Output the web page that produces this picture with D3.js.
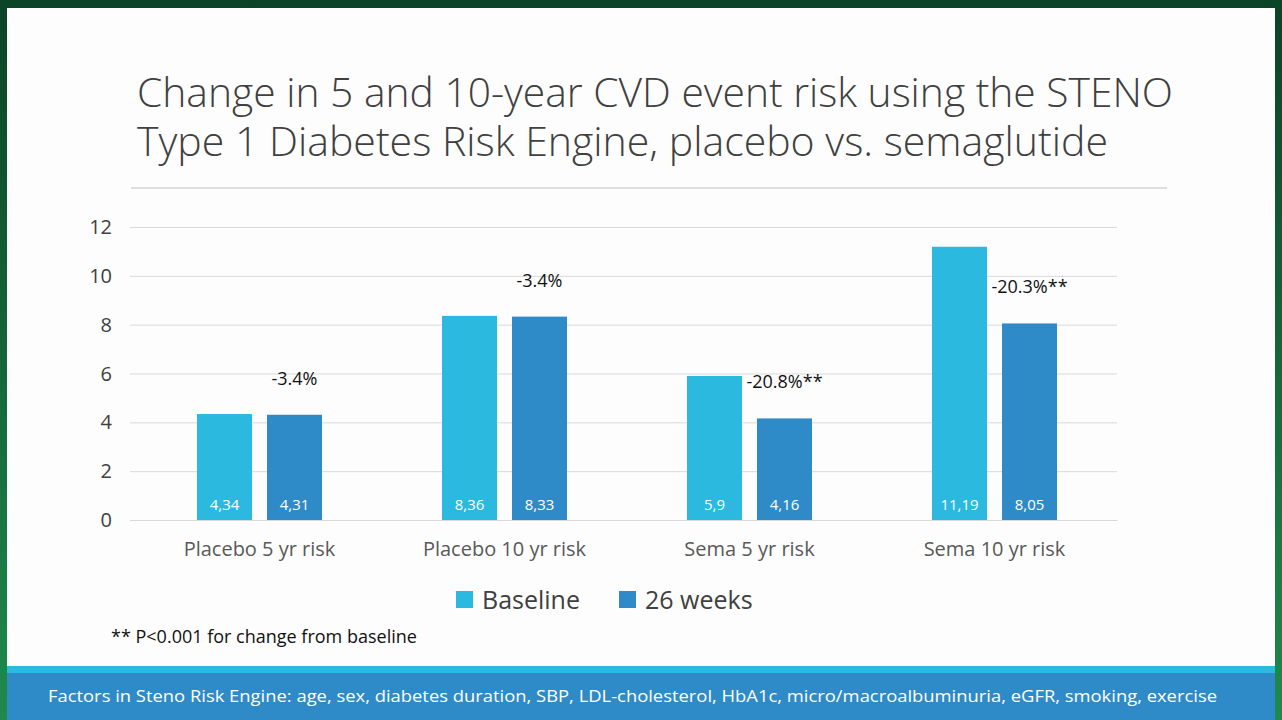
<!DOCTYPE html>
<html>
<head>
<meta charset="utf-8">
<script src="https://d3js.org/d3.v7.min.js"></script>
<style>
  body { margin:0; background:#0b4a2a; }
  svg { display:block; font-family: "Open Sans", "Noto Sans", sans-serif; }
</style>
</head>
<body>
<script>
// data
var categories = ["Placebo 5 yr risk", "Placebo 10 yr risk", "Sema 5 yr risk", "Sema 10 yr risk"];
var seriesNames = ["Baseline", "26 weeks"];
var baseline = [4.34, 8.36, 5.9, 11.19];
var week26 = [4.31, 8.33, 4.16, 8.05];
var valueLabels = [["4,34","4,31"], ["8,36","8,33"], ["5,9","4,16"], ["11,19","8,05"]];
var changeLabels = ["-3.4%", "-3.4%", "-20.8%**", "-20.3%**"];
var yTicks = [0, 2, 4, 6, 8, 10, 12];
var colors = ["#2BB9E0", "#2E8BC7"];

var W = 1282, H = 720;
var svg = d3.select("body").append("svg").attr("width", W).attr("height", H);

// green frame
var defs = svg.append("defs");
var grad = defs.append("linearGradient").attr("id", "frame").attr("x1", 0).attr("y1", 0).attr("x2", 0).attr("y2", 1);
grad.append("stop").attr("offset", "0%").attr("stop-color", "#0b4326");
grad.append("stop").attr("offset", "100%").attr("stop-color", "#1f8a4c");
svg.append("rect").attr("width", W).attr("height", H).attr("fill", "url(#frame)");
svg.append("rect").attr("x", 7).attr("y", 8).attr("width", 1268).attr("height", H - 8).attr("fill", "#fdfdfd");

// title
var title = svg.append("text").attr("fill", "#404040").style("font-size", "40px").style("font-weight", 300);
title.append("tspan").attr("x", 137).attr("y", 107).attr("textLength", 1036).attr("lengthAdjust", "spacingAndGlyphs")
  .text("Change in 5 and 10-year CVD event risk using the STENO");
title.append("tspan").attr("x", 137).attr("y", 156).attr("textLength", 971).attr("lengthAdjust", "spacingAndGlyphs")
  .text("Type 1 Diabetes Risk Engine, placebo vs. semaglutide");
svg.append("line").attr("x1", 131).attr("x2", 1167).attr("y1", 188).attr("y2", 188).attr("stroke", "#bfbfbf");

// scales
var x0 = d3.scaleBand().domain(categories).range([137, 1117]);
var y = d3.scaleLinear().domain([0, 12]).range([520, 227]);
var barW = 55, gap = 15;

svg.append("g").attr("transform", "translate(130,0)")
  .call(d3.axisLeft(y).tickValues(yTicks).tickSize(-987).tickFormat(""))
  .call(g => g.select(".domain").remove())
  .call(g => g.selectAll("line").attr("stroke", "#d9d9d9"));

yTicks.forEach(function(t) {
  svg.append("text").attr("x", 112).attr("y", y(t) + 7).attr("text-anchor", "end")
    .attr("fill", "#404040").style("font-size", "20px").text(t);
});

var xAxis = svg.append("g").attr("transform", "translate(0,520)")
  .call(d3.axisBottom(x0).tickSize(0).tickPadding(22));
xAxis.select(".domain").attr("stroke", "#d9d9d9");
xAxis.selectAll("text").attr("fill", "#595959").style("font-size", "20px")
  .style("font-family", "'Open Sans', sans-serif");

categories.forEach(function(c, i) {
  var cx = x0(c) + x0.bandwidth() / 2;
  var vals = [baseline[i], week26[i]];
  vals.forEach(function(v, j) {
    var bx = cx - gap / 2 - barW + j * (barW + gap);
    svg.append("rect").attr("x", bx).attr("y", y(v)).attr("width", barW)
      .attr("height", y(0) - y(v)).attr("fill", colors[j]);
    svg.append("text").attr("x", bx + barW / 2).attr("y", 510).attr("text-anchor", "middle")
      .attr("fill", "#ffffff").style("font-size", "15px").text(valueLabels[i][j]);
  });
  var lx = cx + gap / 2 + barW / 2;
  svg.append("text").attr("x", lx).attr("y", y(week26[i]) - 30)
    .attr("text-anchor", "middle").attr("fill", "#111").style("font-size", "18px").text(changeLabels[i]);
});

// legend
seriesNames.forEach(function(s, j) {
  var lx = [456, 619][j];
  svg.append("rect").attr("x", lx).attr("y", 591).attr("width", 17).attr("height", 17).attr("fill", colors[j]);
  svg.append("text").attr("x", lx + 26).attr("y", 609).attr("fill", "#404040").style("font-size", "25px").text(s);
});

svg.append("text").attr("x", 111).attr("y", 643).attr("fill", "#111").style("font-size", "18px")
  .text("** P<0.001 for change from baseline");

// bottom band
svg.append("rect").attr("x", 7).attr("y", 666).attr("width", 1268).attr("height", 8).attr("fill", "#2BB9E0");
svg.append("rect").attr("x", 7).attr("y", 673).attr("width", 1268).attr("height", 47).attr("fill", "#2E8BC7");
svg.append("text").attr("x", 48).attr("y", 702).attr("fill", "#ffffff").style("font-size", "17px")
  .attr("textLength", 1169).attr("lengthAdjust", "spacingAndGlyphs")
  .text("Factors in Steno Risk Engine:  age, sex, diabetes duration, SBP, LDL-cholesterol, HbA1c, micro/macroalbuminuria, eGFR, smoking, exercise");
</script>
</body>
</html>
